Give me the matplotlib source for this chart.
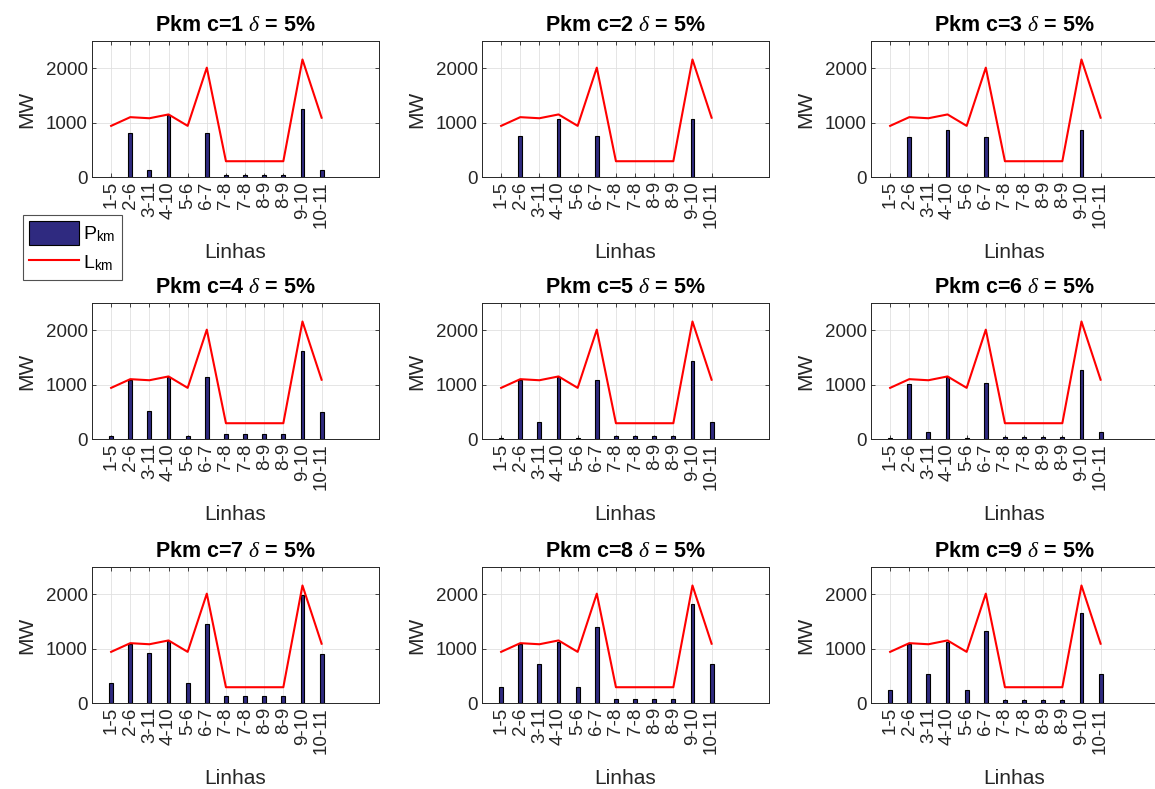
import matplotlib
matplotlib.use("Agg")
import matplotlib.pyplot as plt
import numpy as np
from matplotlib.patches import Patch
from matplotlib.lines import Line2D

plt.rcParams['font.family'] = ['Liberation Sans', 'DejaVu Sans']
plt.rcParams['mathtext.fontset'] = 'custom'
plt.rcParams['mathtext.rm'] = 'Liberation Sans'
plt.rcParams['mathtext.sf'] = 'Liberation Sans'
plt.rcParams['mathtext.it'] = 'Liberation Serif:italic'

lines = ['1-5', '2-6', '3-11', '4-10', '5-6', '6-7', '7-8', '7-8', '8-9', '8-9', '9-10', '10-11']
L_km = [940, 1100, 1080, 1150, 940, 2010, 290, 290, 290, 290, 2160, 1090]

P_c1 = [0, 805, 122, 1145, 0, 805, 40, 40, 40, 40, 1256, 122]
P_c2 = [0, 760, 0, 1075, 0, 760, 0, 0, 0, 0, 1070, 0]
P_c3 = [0, 738, 0, 866, 0, 738, 0, 0, 0, 0, 866, 0]
P_c4 = [61, 1085, 506, 1134, 61, 1146, 98, 98, 98, 98, 1622, 494]
P_c5 = [10, 1076, 306, 1138, 10, 1089, 55, 55, 55, 55, 1443, 306]
P_c6 = [15, 1015, 128, 1138, 15, 1028, 30, 30, 30, 30, 1266, 128]
P_c7 = [367, 1083, 917, 1131, 367, 1456, 122, 122, 122, 122, 1994, 893]
P_c8 = [294, 1076, 722, 1125, 294, 1388, 73, 73, 73, 73, 1817, 709]
P_c9 = [239, 1076, 538, 1125, 239, 1327, 49, 49, 49, 49, 1651, 526]
P_all = [P_c1, P_c2, P_c3, P_c4, P_c5, P_c6, P_c7, P_c8, P_c9]
cases = [1, 2, 3, 4, 5, 6, 7, 8, 9]

W, H = 1155, 789
fig = plt.figure(figsize=(W / 100, H / 100), dpi=100)

col_left = [92, 482, 871]
row_top = [41, 303, 567]
ax_w, ax_h = 287, 136

bar_color = '#2f2a80'
txt_color = '#262626'
x = np.arange(1, len(lines) + 1)

for i, (c, P) in enumerate(zip(cases, P_all)):
    r, col = divmod(i, 3)
    l = col_left[col]
    t = row_top[r]
    ax = fig.add_axes([l / W, 1 - (t + ax_h) / H, ax_w / W, ax_h / H])
    ax.bar(x, P, width=0.2, color=bar_color, edgecolor='black', linewidth=0.8, zorder=2)
    ax.plot(x, L_km, color='#ff0000', linewidth=1.5, zorder=3)
    ax.set_xlim(0, 15)
    ax.set_ylim(0, 2500)
    ax.set_xticks(x)
    ax.set_xticklabels(lines, rotation=90, fontsize=13.5, color=txt_color)
    ax.set_yticks([0, 1000, 2000])
    ax.set_yticklabels(['0', '1000', '2000'], fontsize=13.5, color=txt_color)
    ax.tick_params(direction='in', top=True, right=True, length=3, width=0.6, colors=txt_color, pad=3)
    ax.grid(True, color='#e0e0e0', linewidth=0.6, zorder=0)
    ax.set_axisbelow(True)
    for s in ax.spines.values():
        s.set_color('#262626')
        s.set_linewidth(0.7)
    ax.set_xlabel('Linhas', fontsize=15, color=txt_color, labelpad=11)
    ax.set_ylabel('MW', fontsize=15, color=txt_color, labelpad=7)
    ax.set_title('Pkm c=%d $\\delta$ = 5%%' % c, fontsize=15.5, fontweight='bold', color='black', pad=7)

handles = [Patch(facecolor=bar_color, edgecolor='black', linewidth=0.8),
           Line2D([0], [0], color='#ff0000', linewidth=1.5)]
labels = ['P$_{\\mathrm{km}}$', 'L$_{\\mathrm{km}}$']
leg = fig.legend(handles, labels, loc='upper left', bbox_to_anchor=(23 / W, 1 - 215 / H),
                 fontsize=14, frameon=True, fancybox=False, edgecolor='#262626',
                 handlelength=2.6, handleheight=1.5, handletextpad=0.2,
                 borderpad=0.3, labelspacing=0.3, borderaxespad=0)
leg.get_frame().set_linewidth(0.8)

fig.savefig('out.png', dpi=100)
